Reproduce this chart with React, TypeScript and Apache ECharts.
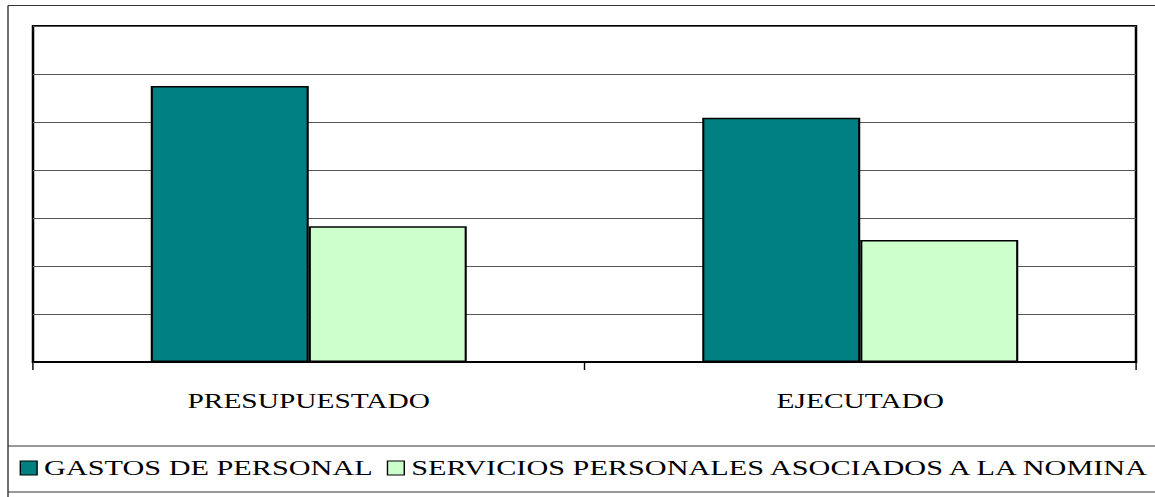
import React, { useEffect, useRef } from 'react';
import * as echarts from 'echarts';

const categories = ['PRESUPUESTADO', 'EJECUTADO'];
const seriesNames = ['GASTOS DE PERSONAL', 'SERVICIOS PERSONALES ASOCIADOS A LA NOMINA'];
const gastosDePersonal = [5.75, 5.09];
const serviciosPersonales = [2.83, 2.54];
const seriesColors = ['#008080', '#CCFFCC'];

const STRETCH = 1.4;
const PAGE_W = 1155;
const PAGE_H = 497;
const CW = PAGE_W / STRETCH;
const FONT = '"Liberation Serif", "Times New Roman", Times, serif';

export default function App() {
  const ref = useRef<HTMLDivElement>(null);

  useEffect(() => {
    if (!ref.current) return;
    const chart = echarts.init(ref.current, undefined, { renderer: 'svg' });
    const fx = 8 / STRETCH;
    const frameColor = '#333';
    chart.setOption({
      animation: false,
      backgroundColor: '#fff',
      grid: {
        left: 33 / STRETCH,
        right: CW - 1136 / STRETCH,
        top: 26,
        bottom: PAGE_H - 362,
        show: true,
        borderColor: '#000',
        borderWidth: 1.8,
        containLabel: false,
      },
      legend: {
        left: 14,
        top: 457,
        padding: 0,
        itemGap: 10,
        itemWidth: 12,
        itemHeight: 14,
        icon: 'rect',
        data: seriesNames,
        textStyle: { fontFamily: FONT, fontSize: 21.6, color: '#000' },
        itemStyle: { borderColor: '#000', borderWidth: 1 },
      },
      xAxis: {
        type: 'category',
        data: categories,
        axisLine: { show: true, lineStyle: { color: '#000', width: 1.8 } },
        axisTick: { show: true, length: 8, lineStyle: { color: '#000', width: 1 } },
        axisLabel: { fontFamily: FONT, fontSize: 21, color: '#000', margin: 29 },
        splitLine: { show: false },
      },
      yAxis: {
        type: 'value',
        min: 0,
        max: 7,
        interval: 1,
        axisLabel: { show: false },
        axisLine: { show: false },
        axisTick: { show: false },
        splitLine: { show: true, lineStyle: { color: '#555', width: 1 } },
      },
      series: [
        {
          name: seriesNames[0],
          type: 'bar',
          data: gastosDePersonal,
          barWidth: '28.65%',
          barGap: '0%',
          itemStyle: { color: seriesColors[0], borderColor: '#000', borderWidth: 1.5 },
        },
        {
          name: seriesNames[1],
          type: 'bar',
          data: serviciosPersonales,
          barWidth: '28.65%',
          barGap: '0%',
          itemStyle: { color: seriesColors[1], borderColor: '#000', borderWidth: 1.5 },
        },
      ],
      graphic: [
        { type: 'line', shape: { x1: fx, y1: 5.5, x2: CW, y2: 5.5 }, style: { stroke: frameColor, lineWidth: 1 } },
        { type: 'line', shape: { x1: fx, y1: 5.5, x2: fx, y2: PAGE_H }, style: { stroke: frameColor, lineWidth: 1 } },
        { type: 'line', shape: { x1: fx, y1: 446, x2: CW, y2: 446 }, style: { stroke: frameColor, lineWidth: 1 } },
        { type: 'line', shape: { x1: fx, y1: 492, x2: CW, y2: 492 }, style: { stroke: frameColor, lineWidth: 1 } },
      ],
    });
    return () => chart.dispose();
  }, []);

  return (
    <div
      ref={ref}
      style={{
        position: 'fixed',
        left: 0,
        top: 0,
        width: CW,
        height: PAGE_H,
        transform: `scaleX(${STRETCH})`,
        transformOrigin: '0 0',
      }}
    />
  );
}
